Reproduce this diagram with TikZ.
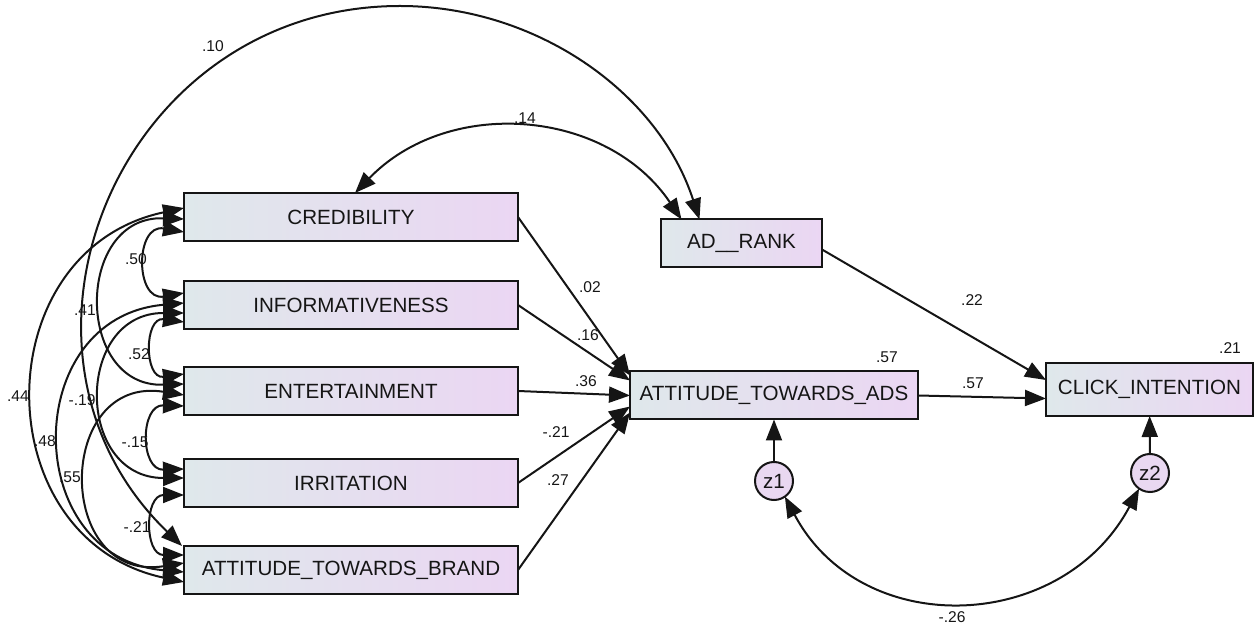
\documentclass[tikz,border=0pt]{standalone}
\usepackage{fontspec}
\setmainfont{Liberation Sans}
\usetikzlibrary{arrows.meta}
\definecolor{inkline}{HTML}{151515}
\definecolor{boxl}{HTML}{DFE8EB}
\definecolor{boxr}{HTML}{EBD6F3}
\definecolor{errfill}{HTML}{E9D8F1}
\tikzset{
  >={Triangle[length=10.5pt,width=8pt]},
  var/.style={draw=inkline,line width=1pt,left color=boxl,right color=boxr,text=inkline,
    minimum height=24pt,inner sep=0pt,outer sep=0pt,font=\fontsize{10.3}{12}\selectfont},
  err/.style={circle,draw=inkline,line width=1pt,fill=errfill,text=inkline,
    minimum size=19pt,inner sep=0pt,outer sep=0pt,font=\fontsize{10.3}{12}\selectfont},
  coef/.style={font=\fontsize{7.8}{9}\selectfont,inner sep=0pt,text=inkline},
  reg/.style={->,line width=1pt,draw=inkline},
  cov/.style={<->,line width=1pt,draw=inkline},
}
\begin{document}
\begin{tikzpicture}[x=0.5pt,y=0.5pt]
  \useasboundingbox (0,0) rectangle (1260,-625);
  % observed variables
  \node[var,minimum width=167pt] (cred) at (351,-217) {CREDIBILITY};
  \node[var,minimum width=167pt] (inf)  at (351,-305) {INFORMATIVENESS};
  \node[var,minimum width=167pt] (ent)  at (351,-391) {ENTERTAINMENT};
  \node[var,minimum width=167pt] (irr)  at (351,-483) {IRRITATION};
  \node[var,minimum width=167pt] (atb)  at (351,-570) {ATTITUDE\_TOWARDS\_BRAND};
  \node[var,minimum width=80.5pt] (adrank) at (741.5,-243.5) {AD\_\_RANK};
  \node[var,minimum width=144pt] (ads) at (774,-395.5) {ATTITUDE\_TOWARDS\_ADS};
  \node[var,minimum width=103.5pt,minimum height=26.5pt] (click) at (1149.5,-389.5) {CLICK\_INTENTION};
  % residuals
  \node[err] (z1) at (774,-481) {z1};
  \node[err] (z2) at (1150,-473) {z2};
  \coordinate (top10) at (400,-6);

  % regression paths
  \draw[reg] (cred.east) -- ([yshift=10pt]ads.west);
  \draw[reg] (inf.east) -- ([yshift=7.5pt]ads.west);
  \draw[reg] (ent.east) -- (ads.west);
  \draw[reg] (irr.east) -- ([yshift=-5.5pt]ads.west);
  \draw[reg] (atb.east) -- ([yshift=-8.5pt]ads.west);
  \draw[reg] ([yshift=-3pt]adrank.east) -- ([yshift=4.75pt]click.west);
  \draw[reg] (ads.east) -- ([yshift=-4.5pt]click.west);
  \draw[reg] (z1) -- (ads);
  \draw[reg] (z2) -- (click);

  % covariances between exogenous variables
  \draw[cov] ([yshift=-7.5pt]cred.west) to[out=170,in=190,looseness=2.1] ([yshift=6pt]inf.west);
  \draw[cov] ([yshift=-8.5pt]inf.west) to[out=172,in=188,looseness=2.0] ([yshift=8.5pt]ent.west);
  \draw[cov] ([yshift=-7.5pt]ent.west) to[out=178,in=182,looseness=1.8] ([yshift=7pt]irr.west);
  \draw[cov] ([yshift=-6pt]irr.west) to[out=180,in=180,looseness=1.7] ([yshift=7.5pt]atb.west);
  \draw[cov] ([yshift=-1pt]cred.west) to[out=178,in=182,looseness=1.7] ([yshift=3.5pt]ent.west);
  \draw[cov] ([yshift=-4pt]inf.west) to[out=180,in=180,looseness=1.7] ([yshift=2.5pt]irr.west);
  \draw[cov] ([yshift=-2pt]ent.west) to[out=171,in=189,looseness=2.0] ([yshift=3.5pt]atb.west);
  \draw[cov] ([yshift=1pt]inf.west) to[out=185,in=175,looseness=1.57] ([yshift=-1pt]atb.west);
  \draw[cov] ([yshift=4.5pt]cred.west) to[out=192,in=168,looseness=1.4] ([yshift=-6pt]atb.west);
  \draw[cov] ([xshift=2pt]cred.north) to[out=46,in=124,looseness=1.05] ([xshift=-30pt]adrank.north);
  \draw[cov] ([xshift=-1pt]atb.north west) to[out=136,in=180,looseness=1.24] (top10)
    to[out=0,in=108,looseness=0.94] ([xshift=-21pt]adrank.north);
  \draw[cov] (z1.-55) to[out=-62,in=-118,looseness=1.18] (z2.-125);

  % estimates
  \node[coef] (c10) at (213,-46) {.10};
  \node[coef] (c14) at (525,-118) {.14};
  \node[coef] (c50) at (136,-259) {.50};
  \node[coef] (c41) at (85,-310) {.41};
  \node[coef] (c52) at (139,-354) {.52};
  \node[coef] (c44) at (18,-396) {.44};
  \node[coef] (c19) at (82,-400) {-.19};
  \node[coef] (c48) at (45,-441) {.48};
  \node[coef] (c15) at (135,-442) {-.15};
  \node[coef] (c55) at (70,-477) {.55};
  \node[coef] (c21) at (137,-527) {-.21};
  \node[coef] (p02) at (590,-287) {.02};
  \node[coef] (p16) at (588,-335) {.16};
  \node[coef] (p36) at (586,-381) {.36};
  \node[coef] (p21) at (556,-432) {-.21};
  \node[coef] (p27) at (558,-480) {.27};
  \node[coef] (r57) at (887,-357) {.57};
  \node[coef] (p57) at (973,-383) {.57};
  \node[coef] (p22) at (972,-300) {.22};
  \node[coef] (r21) at (1230,-348) {.21};
  \node[coef] (c26) at (952,-617) {-.26};
\end{tikzpicture}
\end{document}
